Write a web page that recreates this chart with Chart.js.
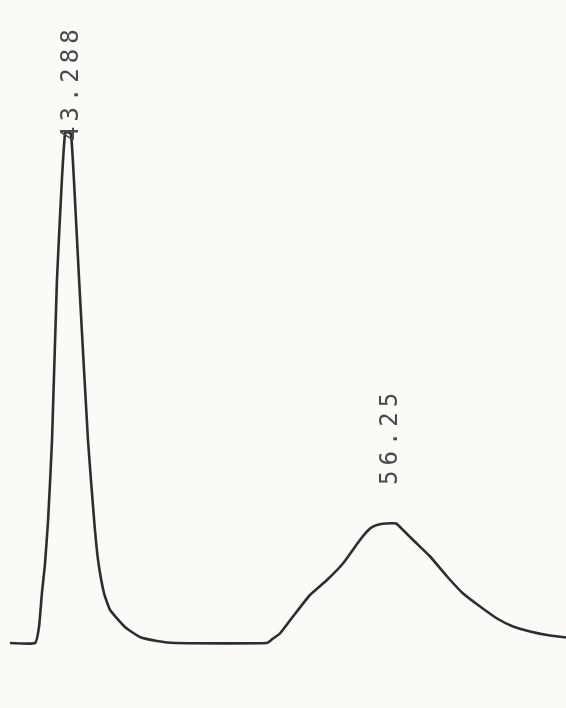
<!DOCTYPE html>
<html>
<head>
<meta charset="utf-8">
<script src="https://cdn.jsdelivr.net/npm/chart.js@4.4.1/dist/chart.umd.min.js"></script>
<style>
  html, body { margin: 0; padding: 0; background: #fbfaf6; }
  #wrap { width: 566px; height: 708px; position: relative; }
</style>
</head>
<body>
<div id="wrap"><canvas id="chromatogram"></canvas></div>
<script>
// Chromatogram trace (time, detector signal)
const times = [
  40.97, 41.99, 42.15, 42.27, 42.39, 42.52, 42.68, 42.88, 43.08, 43.21,
  43.29, 43.45, 43.57, 43.78, 44.14, 44.39, 44.55, 44.79, 45.04, 45.64,
  46.25, 46.94, 47.68,
  51.41, 51.66, 51.94, 52.47, 53.16, 53.85, 54.50, 55.19, 55.60, 55.88,
  56.25, 56.66, 56.94, 57.35, 58.04, 58.73, 59.38, 60.07, 60.76, 61.41,
  62.10, 62.79, 63.56
];
const signal = [
  0, 0, 3.2, 10.0, 15.6, 24.6, 40.6, 72.6, 92.6, 102.0,
  102.2, 101.8, 92.6, 72.6, 40.6, 24.6, 16.6, 10.0, 6.6, 3.2,
  1.2, 0.4, 0,
  0, 0.9, 1.9, 5.3, 9.6, 12.6, 15.9, 20.6, 22.9, 23.6,
  23.9, 23.9, 22.6, 20.6, 17.3, 13.3, 9.9, 7.3, 4.9, 3.3,
  2.3, 1.6, 1.1
];

// Peak annotations printed by the integrator
const peakLabels = ['43.288', '56.25'];
const peakTimes = [43.288, 56.25];
const peakLabelLevels = [100.4, 31.6];

const tracePoints = times.map((t, i) => ({ x: t, y: signal[i] }));

// draws the rotated retention-time labels
const peakLabelPlugin = {
  id: 'peakLabels',
  afterDatasetsDraw(chart) {
    const { ctx, scales } = chart;
    ctx.save();
    ctx.fillStyle = '#4a4a4a';
    ctx.font = '24px "DejaVu Sans Mono", monospace';
    ctx.letterSpacing = '5px';
    ctx.textAlign = 'left';
    ctx.textBaseline = 'middle';
    peakLabels.forEach((txt, i) => {
      const px = scales.x.getPixelForValue(peakTimes[i]) + 5;
      const py = scales.y.getPixelForValue(peakLabelLevels[i]);
      ctx.save();
      ctx.translate(px, py);
      ctx.rotate(-Math.PI / 2);
      ctx.fillText(txt, 0, 0);
      ctx.restore();
    });
    ctx.restore();
  }
};

new Chart(document.getElementById('chromatogram'), {
  type: 'scatter',
  data: {
    datasets: [{
      label: 'Signal',
      data: tracePoints,
      showLine: true,
      borderColor: '#2e2e2e',
      borderWidth: 2.6,
      pointRadius: 0,
      tension: 0.15
    }]
  },
  options: {
    responsive: true,
    maintainAspectRatio: false,
    animation: false,
    layout: { padding: 0 },
    plugins: {
      legend: { display: false },
      tooltip: { enabled: false }
    },
    scales: {
      x: { type: 'linear', display: false, min: 40.566, max: 63.562 },
      y: { type: 'linear', display: false, min: -13.0, max: 128.6 }
    }
  },
  plugins: [peakLabelPlugin]
});
</script>
</body>
</html>
